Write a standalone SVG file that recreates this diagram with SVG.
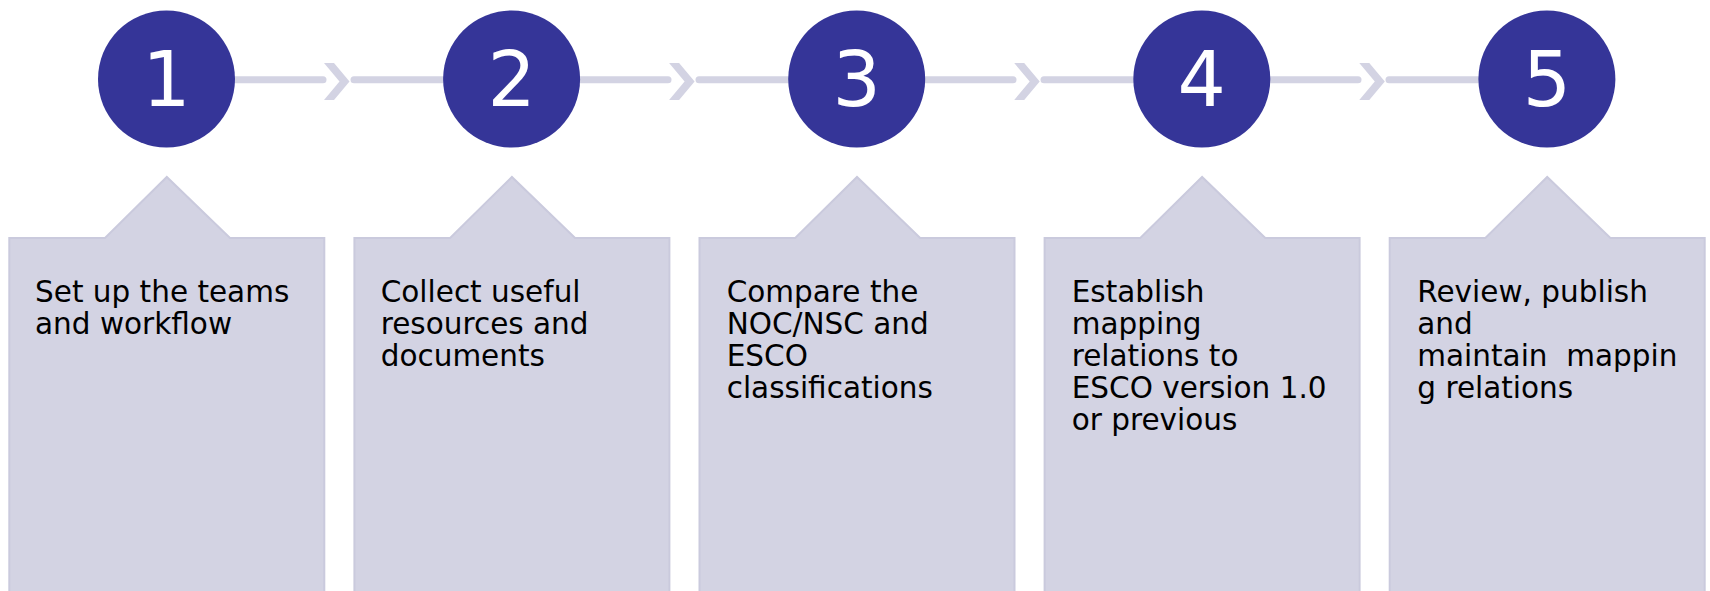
<svg xmlns="http://www.w3.org/2000/svg" width="1710" height="591" viewBox="0 0 1710 591">
<defs>
<style>
.box{fill:#d3d3e3;stroke:#cacadd;stroke-width:2}
.circ{fill:#353598}
.num{font-family:"DejaVu Sans",Verdana,sans-serif;font-size:76px;fill:#ffffff;text-anchor:middle}
.lbl{font-family:"DejaVu Sans",Verdana,sans-serif;font-size:29.5px;fill:#000000}
.ln{stroke:#d3d3e3;stroke-width:7;stroke-linecap:round;fill:none}
.chev{fill:#d3d3e3}
</style>
<path id="chevron" d="M0,-18.5 L10,-18.5 L25.5,0 L10,18.5 L0,18.5 L15.5,0 Z"/>
</defs>
<rect width="1710" height="591" fill="#ffffff"/>
<g id="connectors">
<line class="ln" x1="234" y1="79.7" x2="323" y2="79.7"/>
<use href="#chevron" class="chev" x="324" y="81.5"/>
<line class="ln" x1="354" y1="79.7" x2="445" y2="79.7"/>
<line class="ln" x1="579" y1="79.7" x2="668" y2="79.7"/>
<use href="#chevron" class="chev" x="669.1" y="81.5"/>
<line class="ln" x1="699" y1="79.7" x2="790" y2="79.7"/>
<line class="ln" x1="924" y1="79.7" x2="1013" y2="79.7"/>
<use href="#chevron" class="chev" x="1014.2" y="81.5"/>
<line class="ln" x1="1044" y1="79.7" x2="1135" y2="79.7"/>
<line class="ln" x1="1269" y1="79.7" x2="1358" y2="79.7"/>
<use href="#chevron" class="chev" x="1359.3" y="81.5"/>
<line class="ln" x1="1389" y1="79.7" x2="1480" y2="79.7"/>
</g>
<g id="step1">
<circle class="circ" cx="166.5" cy="79" r="68.5"/>
<text class="num" x="166.5" y="105.5">1</text>
<path class="box" d="M9.3,238 L105,238 L166.8,177 L230,238 L324.3,238 L324.3,600 L9.3,600 Z"/>
<text class="lbl" x="35" y="301.7">Set up the teams</text>
<text class="lbl" x="35" y="333.5">and workflow</text>
</g>
<g id="step2">
<circle class="circ" cx="511.6" cy="79" r="68.5"/>
<text class="num" x="511.6" y="105.5">2</text>
<path class="box" d="M354.4,238 L450.1,238 L511.9,177 L575.1,238 L669.4,238 L669.4,600 L354.4,600 Z"/>
<text class="lbl" x="380.7" y="301.7">Collect useful</text>
<text class="lbl" x="380.7" y="333.5">resources and</text>
<text class="lbl" x="380.7" y="365.5">documents</text>
</g>
<g id="step3">
<circle class="circ" cx="856.7" cy="79" r="68.5"/>
<text class="num" x="856.7" y="105.5">3</text>
<path class="box" d="M699.5,238 L795.2,238 L857,177 L920.2,238 L1014.5,238 L1014.5,600 L699.5,600 Z"/>
<text class="lbl" x="726.7" y="301.7">Compare the</text>
<text class="lbl" x="726.7" y="333.5">NOC/NSC and</text>
<text class="lbl" x="726.7" y="365.5">ESCO</text>
<text class="lbl" x="726.7" y="397.5">classifications</text>
</g>
<g id="step4">
<circle class="circ" cx="1201.8" cy="79" r="68.5"/>
<text class="num" x="1201.8" y="105.5">4</text>
<path class="box" d="M1044.6,238 L1140.3,238 L1202.1,177 L1265.3,238 L1359.6,238 L1359.6,600 L1044.6,600 Z"/>
<text class="lbl" x="1071.7" y="301.7">Establish</text>
<text class="lbl" x="1071.7" y="333.5">mapping</text>
<text class="lbl" x="1071.7" y="365.5">relations to</text>
<text class="lbl" x="1071.7" y="397.5">ESCO version 1.0</text>
<text class="lbl" x="1071.7" y="429.5">or previous</text>
</g>
<g id="step5">
<circle class="circ" cx="1546.9" cy="79" r="68.5"/>
<text class="num" x="1546.9" y="105.5">5</text>
<path class="box" d="M1389.7,238 L1485.4,238 L1547.2,177 L1610.4,238 L1704.7,238 L1704.7,600 L1389.7,600 Z"/>
<text class="lbl" x="1417.3" y="301.7">Review, publish</text>
<text class="lbl" x="1417.3" y="333.5">and</text>
<text class="lbl" x="1417.3" y="365.5" xml:space="preserve">maintain  mappin</text>
<text class="lbl" x="1417.3" y="397.5">g relations</text>
</g>
</svg>
